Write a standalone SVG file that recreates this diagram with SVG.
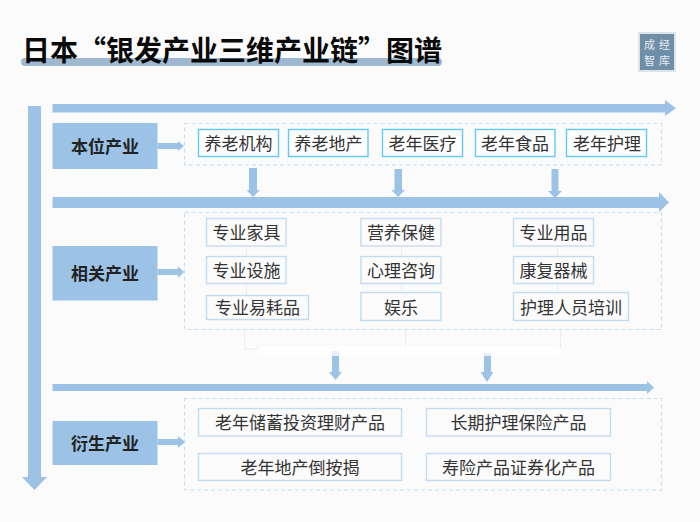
<svg xmlns="http://www.w3.org/2000/svg" width="700" height="522" viewBox="0 0 700 522">
<style>
text{font-family:"Noto Sans CJK SC","Noto Sans",sans-serif;text-anchor:middle}
.t{font-size:17px;fill:#333}
.l{font-size:17px;font-weight:700;fill:#222}
.a{fill:#9cc3e6}
.lab{fill:#9cc3e6}
.top{fill:#fff;stroke:#5fc8f5;stroke-width:1.4}
.mid{fill:#fbfbfb;stroke:#c3dcf2;stroke-width:1.4}
.dash{fill:none;stroke:#c4e0f7;stroke-width:1.2;stroke-dasharray:4 3}
.f{fill:none;stroke:#e6eef5;stroke-width:1}
.s{font-size:11px;fill:#e6edf2}
</style>
<rect width="700" height="522" fill="#fbfbfb"/>
<g id="title">
<rect x="21" y="58" width="421" height="8" rx="4" fill="#9db8cf"/>
<text x="232" y="61" font-size="28" font-weight="700" fill="#0a0a0a">日本“银发产业三维产业链”图谱</text>
</g>
<g id="stamp">
<rect x="639" y="33" width="36" height="38" fill="none" stroke="#dde5eb" stroke-width="2"/>
<rect x="640" y="34" width="34" height="36" fill="#6f8fa8"/>
<text class="s" x="649.500" y="48.500">成</text><text class="s" x="664.500" y="48.500">经</text>
<text class="s" x="649.500" y="65">智</text><text class="s" x="664.500" y="65">库</text>
</g>
<g id="connectors">
<path class="a" d="M28 106H41V477H47L34.500 490L22 477H28Z"/>
<path class="a" d="M52.500 104H665V100L676 108.200L665 116V112.500H52.500Z"/>
<path class="a" d="M52.500 197H659V192L669 202.500L659 212V208H52.500Z"/>
<path class="a" d="M52.500 384H647V381L654 387.500L647 394V391H52.500Z"/>
<path class="a" d="M157.500 143H178V141L184 146L178 151V149H157.500Z"/>
<path class="a" d="M157.500 269H178V266L184 272L178 278V275H157.500Z"/>
<path class="a" d="M157.500 439H178V436L185 442L178 448V445H157.500Z"/>
<path class="a" d="M249 168H257V190H260L253 197L246.500 190H249Z"/>
<path class="a" d="M394.500 169H402V190H405L398 197L391.500 190H394.500Z"/>
<path class="a" d="M551.500 169H558.500V191H562L555 198L548 191H551.500Z"/>
<path class="a" d="M332 351H339V372H342L335.500 380L329 372H332Z"/>
<path class="a" d="M484 353H491V372H493.500L487 382L480.500 372H484Z"/>
<path class="f" d="M246.500 246V256.500M246.500 283.500V295.500M401.500 246V256.500M401.500 283.500V292.500M557.500 246V256.500M557.500 283.500V292.500M244.500 329.500V349H260M405.500 329.500V349M560.500 329.500V349"/>
<rect x="257" y="346" width="304" height="10" rx="5" fill="#fff" opacity="0.75"/>
</g>
<g id="band-1">
<rect class="lab" x="52.500" y="123" width="105" height="46"/>
<text class="l" x="105" y="153">本位产业</text>
<rect class="dash" x="184.500" y="123.500" width="477" height="41.500"/>
</g>
<g id="band-2">
<rect class="lab" x="52.500" y="246" width="105" height="54.500"/>
<text class="l" x="105" y="280">相关产业</text>
<rect class="dash" x="184.500" y="212.500" width="477" height="117"/>
</g>
<g id="band-3">
<rect class="lab" x="52.500" y="421" width="105" height="44"/>
<text class="l" x="105" y="450">衍生产业</text>
<rect class="dash" x="184.500" y="398.500" width="477" height="91.500"/>
</g>
<g id="n1"><rect class="top" x="198.500" y="129.500" width="80" height="27"/><text class="t" x="238.500" y="150">养老机构</text></g>
<g id="n2"><rect class="top" x="288.500" y="129.500" width="79.500" height="27"/><text class="t" x="328.500" y="150">养老地产</text></g>
<g id="n3"><rect class="top" x="382.500" y="129.500" width="80" height="27"/><text class="t" x="422.500" y="150">老年医疗</text></g>
<g id="n4"><rect class="top" x="475.500" y="129.500" width="79.500" height="27"/><text class="t" x="515" y="150">老年食品</text></g>
<g id="n5"><rect class="top" x="566.500" y="129.500" width="80" height="27"/><text class="t" x="607" y="150">老年护理</text></g>
<g id="n6"><rect class="mid" x="206.500" y="218.500" width="79.500" height="27.500"/><text class="t" x="246.500" y="239">专业家具</text></g>
<g id="n7"><rect class="mid" x="206.500" y="256.500" width="79.500" height="27"/><text class="t" x="246.500" y="277">专业设施</text></g>
<g id="n8"><rect class="mid" x="206.500" y="295.500" width="102" height="24"/><text class="t" x="257.500" y="314">专业易耗品</text></g>
<g id="n9"><rect class="mid" x="361" y="218.500" width="80" height="27.500"/><text class="t" x="401" y="239">营养保健</text></g>
<g id="n10"><rect class="mid" x="361" y="256.500" width="80" height="27"/><text class="t" x="401" y="277">心理咨询</text></g>
<g id="n11"><rect class="mid" x="361" y="292.500" width="80" height="28"/><text class="t" x="401" y="313.500">娱乐</text></g>
<g id="n12"><rect class="mid" x="513.500" y="218.500" width="80" height="27.500"/><text class="t" x="553.500" y="239">专业用品</text></g>
<g id="n13"><rect class="mid" x="513.500" y="256.500" width="80" height="27"/><text class="t" x="553.500" y="277">康复器械</text></g>
<g id="n14"><rect class="mid" x="513.500" y="292.500" width="115" height="28"/><text class="t" x="571" y="313.500">护理人员培训</text></g>
<g id="n15"><rect class="mid" x="198.500" y="408.500" width="203" height="27.500"/><text class="t" x="300" y="429">老年储蓄投资理财产品</text></g>
<g id="n16"><rect class="mid" x="198.500" y="453.500" width="203" height="27"/><text class="t" x="300" y="474">老年地产倒按揭</text></g>
<g id="n17"><rect class="mid" x="426.500" y="408.500" width="184" height="27.500"/><text class="t" x="518.500" y="429">长期护理保险产品</text></g>
<g id="n18"><rect class="mid" x="426.500" y="453.500" width="184" height="27"/><text class="t" x="518.500" y="474">寿险产品证券化产品</text></g>
</svg>
